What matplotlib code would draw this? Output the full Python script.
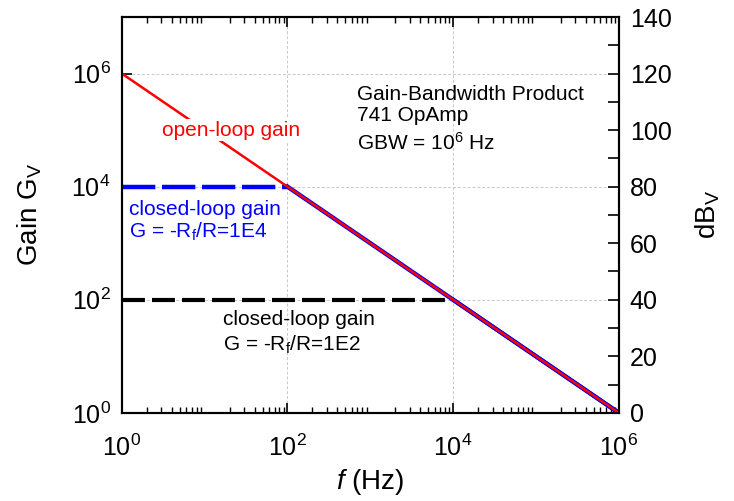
import numpy as np
import matplotlib.pyplot as plt

plt.rcParams['font.family'] = ['Liberation Sans', 'DejaVu Sans']
plt.rcParams['mathtext.fontset'] = 'custom'
plt.rcParams['mathtext.rm'] = 'Liberation Sans'
plt.rcParams['mathtext.it'] = 'Liberation Sans:italic'

# open-loop gain of the 741 (GBW = 1e6 Hz)
ol_freq = [1, 1e6]
ol_gain = [1e6, 1]

# closed-loop gain G = 1E4
cl4_freq = [1, 1e2, 1e6]
cl4_gain = [1e4, 1e4, 1]

# closed-loop gain G = 1E2
cl2_freq = [1, 1e4, 1e6]
cl2_gain = [1e2, 1e2, 1]

x_ticks = [1, 1e2, 1e4, 1e6]
y_ticks = [1, 1e2, 1e4, 1e6]
db_ticks = [0, 20, 40, 60, 80, 100, 120, 140]

fig = plt.figure(figsize=(7.34, 5.01), dpi=100)
ax = fig.add_axes([0.166, 0.176, 0.677, 0.790])

# closed-loop curves: flat part dashed, roll-off solid
ax.plot(cl4_freq[:2], cl4_gain[:2], color='blue', lw=3.2, dashes=(7.5, 1.5), zorder=3)
ax.plot(cl4_freq[1:], cl4_gain[1:], color='blue', lw=3.2, zorder=3)
ax.plot(cl2_freq[:2], cl2_gain[:2], color='black', lw=3, dashes=(5.5, 1.7), zorder=2)
ax.plot(cl2_freq[1:], cl2_gain[1:], color='black', lw=3, zorder=2)
ax.plot(ol_freq, ol_gain, color='red', lw=1.8, zorder=4)

ax.set_xscale('log')
ax.set_yscale('log')
ax.set_xlim(1, 1e6)
ax.set_ylim(1, 1e7)
ax.set_xticks(x_ticks)
ax.set_yticks(y_ticks)
ax.grid(True, which='major', color='#c8c8c8', ls=(0, (3, 2)), lw=0.7)
ax.tick_params(which='major', direction='in', length=7, width=1.2, top=True, right=False,
               labelsize=18)
ax.tick_params(axis='x', which='major', pad=16)
ax.tick_params(axis='y', which='major', pad=8)
ax.tick_params(which='minor', direction='in', length=4, width=1, top=True, right=False)
for s in ax.spines.values():
    s.set_linewidth(1.5)

ax.set_xlabel(r'$\it{f}$ (Hz)', fontsize=20, labelpad=4)
ax.set_ylabel(r'Gain G$_\mathregular{V}$', fontsize=20, labelpad=20)

ax2 = ax.twinx()
ax2.set_ylim(0, 140)
ax2.set_yticks(db_ticks)
ax2.set_yticks(np.arange(10, 140, 20), minor=True)
ax2.tick_params(which='major', direction='in', length=8, width=1.2, labelsize=18, pad=8)
ax2.tick_params(which='minor', direction='in', length=8, width=1.2)
ax2.set_ylabel(r'dB$_\mathregular{V}$', fontsize=20, labelpad=16)
for s in ax2.spines.values():
    s.set_linewidth(1.5)

ax.text(21, 1e5, 'open-loop gain', color='red', fontsize=15, ha='center', va='center',
        zorder=5, bbox=dict(facecolor='white', edgecolor='none', pad=1))
ax.text(1.22, 3.98e3, 'closed-loop gain', color='blue', fontsize=15, ha='left', va='center')
ax.text(1.22, 1.6e3, r'G = -R$_\mathregular{f}$/R=1E4', color='blue', fontsize=15,
        ha='left', va='center')
ax.text(16.7, 44, 'closed-loop gain', color='black', fontsize=15, ha='left', va='center')
ax.text(16.7, 16, r'G = -R$_\mathregular{f}$/R=1E2', color='black', fontsize=15,
        ha='left', va='center')
ax.text(700, 4.2e5, 'Gain-Bandwidth Product', fontsize=15, ha='left', va='center')
ax.text(700, 1.78e5, '741 OpAmp', fontsize=15, ha='left', va='center')
ax.text(700, 6.0e4, r'GBW = 10$^\mathregular{6}$ Hz', fontsize=15, ha='left', va='center')

fig.savefig('out.png', dpi=100)
